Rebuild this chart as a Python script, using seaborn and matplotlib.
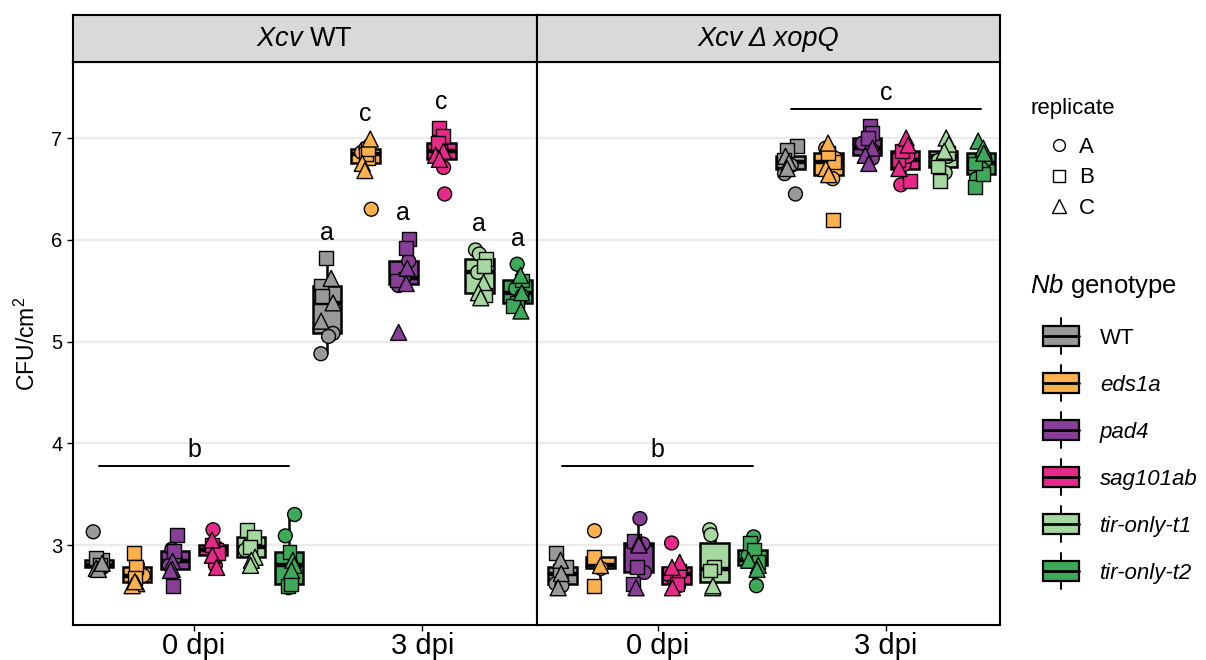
import numpy as np
import pandas as pd
import seaborn as sns
import matplotlib.pyplot as plt
from matplotlib.lines import Line2D
from matplotlib.patches import Rectangle
from matplotlib.legend_handler import HandlerBase

genotypes = ["WT", "eds1a", "pad4", "sag101ab", "tir-only-t1", "tir-only-t2"]
palette = ["#999999", "#FBB14E", "#873E97", "#E7298A", "#A5D89E", "#3DAA5A"]
strains = ["Xcv WT", "Xcv \u0394 xopQ"]
timepoints = ["0 dpi", "3 dpi"]
replicates = ["A", "B", "C"]
rep_markers = ["o", "s", "^"]

# log10 CFU/cm2, one tuple per genotype: (replicate A, replicate B, replicate C)
wt_0dpi = [
    ([3.13, 2.78, 2.80], [2.85, 2.87, 2.80], [2.77, 2.76, 2.82]),
    ([2.74, 2.70, 2.80], [2.92, 2.78, 2.68], [2.62, 2.60, 2.64]),
    ([2.88, 2.80, 2.96], [3.10, 2.60, 2.94], [2.84, 2.76, 2.75]),
    ([3.15, 2.80, 2.97], [2.95, 3.00, 2.92], [3.05, 2.90, 2.78]),
    ([3.00, 2.95, 3.12], [3.15, 3.08, 2.98], [2.88, 2.85, 2.80]),
    ([3.30, 3.09, 2.58], [2.60, 2.62, 2.93], [2.85, 2.80, 2.75]),
]
wt_3dpi = [
    ([5.08, 4.88, 5.05], [5.82, 5.55, 5.45], [5.62, 5.38, 5.20]),
    ([6.30, 6.86, 6.90], [6.80, 6.84, 6.89], [6.99, 6.75, 6.68]),
    ([5.79, 5.55, 5.62], [6.01, 5.92, 5.60], [5.72, 5.57, 5.09]),
    ([6.45, 6.71, 6.90], [7.10, 7.02, 6.95], [6.87, 6.83, 6.79]),
    ([5.90, 5.86, 5.68], [5.81, 5.46, 5.74], [5.58, 5.48, 5.43]),
    ([5.76, 5.52, 5.45], [5.38, 5.60, 5.35], [5.65, 5.48, 5.30]),
]
xopq_0dpi = [
    ([2.62, 2.68, 2.60], [2.92, 2.75, 2.78], [2.85, 2.72, 2.58]),
    ([3.14, 2.77], [2.60, 2.885], [2.80]),
    ([3.26, 3.01, 2.73], [2.78, 2.62, 3.04], [3.02, 3.00, 2.58]),
    ([3.02, 2.68, 2.60], [2.72, 2.62, 2.75], [2.83, 2.78, 2.58]),
    ([3.15, 3.10], [2.78, 2.75], [2.58, 2.60]),
    ([3.08, 2.90, 2.60], [3.02, 2.95, 2.83], [2.85, 2.80, 2.76]),
]
xopq_3dpi = [
    ([6.45, 6.65, 6.73], [6.92, 6.88, 6.78], [6.82, 6.76, 6.70]),
    ([6.60, 6.80, 6.90], [6.19, 6.76, 6.85], [6.95, 6.70, 6.64]),
    ([6.95, 6.88, 6.80], [7.12, 7.05, 7.00], [6.90, 6.83, 6.75]),
    ([6.54, 6.74, 6.82], [6.58, 6.78, 6.87], [7.00, 6.93, 6.70]),
    ([6.82, 6.78, 6.66], [6.58, 6.72, 6.85], [7.00, 6.94, 6.87]),
    ([6.78, 6.70, 6.60], [6.52, 6.65, 6.75], [6.97, 6.90, 6.85]),
]

# significance letters
letters_wt_3dpi = ["a", "c", "a", "c", "a", "a"]

rows = []
for strain, dpi, table in [(strains[0], "0 dpi", wt_0dpi), (strains[0], "3 dpi", wt_3dpi),
                           (strains[1], "0 dpi", xopq_0dpi), (strains[1], "3 dpi", xopq_3dpi)]:
    for geno, reps in zip(genotypes, table):
        for rep, vals in zip(replicates, reps):
            for v in vals:
                rows.append(dict(strain=strain, dpi=dpi, genotype=geno, replicate=rep, cfu=v))
df = pd.DataFrame(rows)

sns.set_theme(style="white")
plt.rcParams["font.family"] = ["Liberation Sans", "DejaVu Sans"]
plt.rcParams["mathtext.fontset"] = "custom"
plt.rcParams["mathtext.it"] = "Liberation Sans:italic"
plt.rcParams["mathtext.rm"] = "Liberation Sans"
plt.rcParams["text.color"] = "black"
plt.rcParams["axes.labelcolor"] = "black"
np.random.seed(7)

W, H = 1206, 660
fig, axes = plt.subplots(1, 2, figsize=(W / 100, H / 100), dpi=100, sharey=True)
fig.subplots_adjust(left=73 / W, right=1000 / W, bottom=35 / H, top=1 - 62 / H, wspace=0)

box_width = 1.0
n = len(genotypes)
hue_off = [(i + 0.5) / n * box_width - box_width / 2 for i in range(n)]

for ax, strain in zip(axes, strains):
    sub = df[df.strain == strain]
    sns.boxplot(data=sub, x="dpi", y="cfu", hue="genotype", order=timepoints,
                hue_order=genotypes, palette=palette, saturation=1, width=box_width,
                gap=0.25, linecolor="black", linewidth=1.8, showfliers=False,
                showcaps=False, medianprops=dict(linewidth=3.2), legend=False, ax=ax)
    for rep, mk in zip(replicates, rep_markers):
        sns.stripplot(data=sub[sub.replicate == rep], x="dpi", y="cfu", hue="genotype",
                      order=timepoints, hue_order=genotypes, palette=palette, dodge=True,
                      jitter=0.14, marker=mk, size=11.5 if mk == "^" else 10,
                      edgecolor="black", linewidth=1.0, legend=False, ax=ax, zorder=3)
    # stripplot dodges with width 0.8; stretch to the box dodge width
    for coll in ax.collections:
        off = coll.get_offsets()
        if len(off):
            c = np.round(off[:, 0])
            off[:, 0] = c + (off[:, 0] - c) * box_width / 0.8
            coll.set_offsets(off)

    ax.set_xlim(-0.53, 1.5)
    ax.set_ylim(2.214, 7.747)
    ax.set_yticks([3, 4, 5, 6, 7])
    ax.yaxis.grid(True, color="#EBEBEB", linewidth=1.6)
    ax.xaxis.grid(False)
    ax.set_axisbelow(True)
    ax.set_xlabel("")
    for s in ax.spines.values():
        s.set_color("black")
        s.set_linewidth(1.5)
    ax.tick_params(axis="x", labelsize=21, length=4, width=1, color="black", bottom=True,
                   labelcolor="black", pad=1)

    # strip label
    pos = ax.get_position()
    sax = fig.add_axes([pos.x0, pos.y1, pos.width, 47 / H])
    sax.set_facecolor("#D9D9D9")
    sax.set_xticks([])
    sax.set_yticks([])
    for s in sax.spines.values():
        s.set_color("black")
        s.set_linewidth(1.5)
    label = r"$\mathit{Xcv}$ WT" if strain == strains[0] else strain
    sax.text(0.5, 0.5, label, ha="center", va="center", fontsize=19.5,
             fontstyle="normal" if strain == strains[0] else "italic", transform=sax.transAxes)

axes[0].set_ylabel("CFU/cm$^2$", fontsize=16.5, labelpad=8)
axes[0].tick_params(axis="y", labelsize=14.5, length=4, width=1, color="black", left=True,
                    labelcolor="black")
axes[1].set_ylabel("")
axes[1].tick_params(axis="y", left=False)

# significance annotations
for i, (geno, let) in enumerate(zip(genotypes, letters_wt_3dpi)):
    top = df[(df.strain == strains[0]) & (df.dpi == "3 dpi") & (df.genotype == geno)].cfu.max()
    axes[0].text(1 + hue_off[i], top + 0.25, let, ha="center", va="center", fontsize=18)

for ax, cat, ybar, let in [(axes[0], 0, 3.78, "b"), (axes[1], 0, 3.78, "b"), (axes[1], 1, 7.29, "c")]:
    ax.plot([cat + hue_off[0], cat + hue_off[-1]], [ybar, ybar], color="black", lw=1.4)
    ax.text(cat, ybar + 0.15, let, ha="center", va="center", fontsize=18)


class MarkerHandler(HandlerBase):
    def create_artists(self, legend, orig_handle, xdescent, ydescent, width, height, fontsize, trans):
        x = -xdescent + width * 0.72
        y = -ydescent + height / 2
        m = Line2D([x], [y], marker=orig_handle.get_marker(), ls="", mfc="white", mec="black",
                   mew=1.0, ms=orig_handle.get_markersize(), transform=trans)
        return [m]


class BoxHandler(HandlerBase):
    def create_artists(self, legend, orig_handle, xdescent, ydescent, width, height, fontsize, trans):
        x0, y0 = -xdescent + width * 0.27, -ydescent
        w = width * 0.73
        xm = x0 + w / 2
        box = Rectangle((x0, y0), w, height, facecolor=orig_handle.get_facecolor(),
                        edgecolor="black", linewidth=1.6, transform=trans)
        med = Line2D([x0, x0 + w], [y0 + height / 2] * 2, color="black", lw=2, transform=trans)
        top = Line2D([xm, xm], [y0 + height, y0 + height * 1.4], color="black", lw=1.4, transform=trans)
        bot = Line2D([xm, xm], [y0, y0 - height * 0.4], color="black", lw=1.4, transform=trans)
        return [top, bot, box, med]


rep_handles = [Line2D([], [], marker=m, ls="", ms=9.5 if m == "^" else 8.5) for m in rep_markers]
leg1 = fig.legend(rep_handles, replicates, title="replicate", loc="upper left",
                  bbox_to_anchor=(1030 / W, 1 - 98 / H), frameon=False, fontsize=16,
                  title_fontsize=16, alignment="left", handler_map={Line2D: MarkerHandler()},
                  handlelength=1.8, handletextpad=0.4, labelspacing=0.42,
                  borderpad=0, borderaxespad=0)
leg1._legend_box.sep = 13

geno_handles = [Rectangle((0, 0), 1, 1, facecolor=c) for c in palette]
leg2 = fig.legend(geno_handles, genotypes, title=r"$\mathit{Nb}$ genotype", loc="upper left",
                  bbox_to_anchor=(1030 / W, 1 - 272 / H), frameon=False, fontsize=16,
                  title_fontsize=18.5, alignment="left", handler_map={Rectangle: BoxHandler()},
                  handlelength=2.2, handleheight=1.0, handletextpad=0.95, labelspacing=1.1,
                  borderpad=0, borderaxespad=0)
leg2._legend_box.sep = 19
for t in leg2.get_texts()[1:]:
    t.set_fontstyle("italic")

fig.savefig("out.png", dpi=100)
